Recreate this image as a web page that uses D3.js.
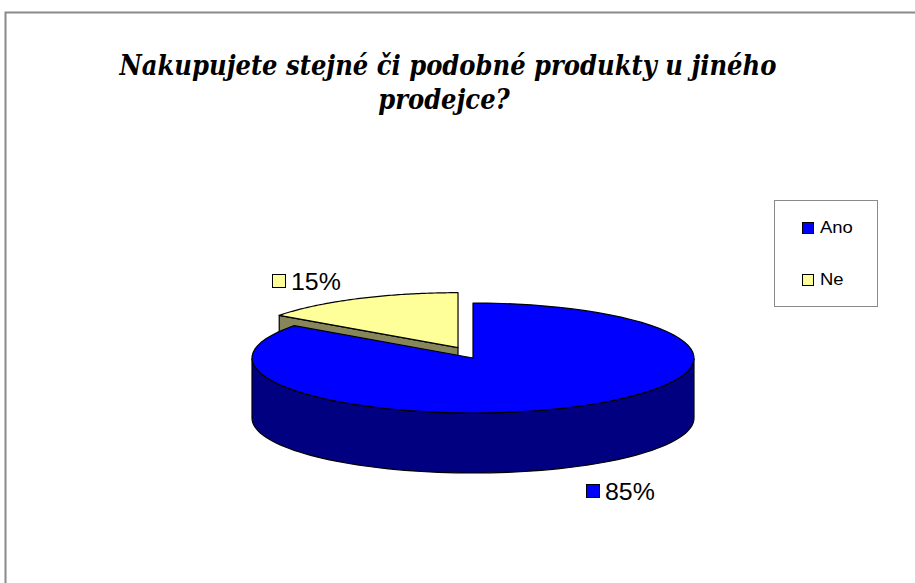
<!DOCTYPE html>
<html>
<head>
<meta charset="utf-8">
<script src="https://cdn.jsdelivr.net/npm/d3@7"></script>
<style>
  body { margin: 0; background: #fff; }
  svg { display: block; }
</style>
</head>
<body>
<script>
// DATA
var categories = ['Ano', 'Ne'];
var values = [85, 15];
var labels = ['85%', '15%'];
var titleLines = ['Nakupujete stejné či podobné produkty u jiného', 'prodejce?'];

// COLOURS
var topColors = ['#0000FF', '#FFFF99'];
var sideColors = ['#000080', '#86865A'];

var width = 915, height = 583;
var svg = d3.select('body').append('svg')
   .attr('width', width)
   .attr('height', height);

// FRAME
svg.append('path')
   .attr('d', 'M5.5,' + (height + 2) + 'V12.5H' + (width + 2))
   .attr('fill', 'none')
   .attr('stroke', '#8a8a8a')
   .attr('stroke-width', 2);

// TITLE (serif bold italic, squeezed a bit to match original width)
svg.append('g').selectAll('text')
   .data(titleLines).enter().append('text')
   .attr('transform', (d, i) => 'translate(' + (i ? 444 : 448) + ',' + (75 + i * 34) + ') scale(0.9,1)')
   .attr('text-anchor', 'middle')
   .style('font-family', "'DejaVu Serif', 'Liberation Serif', serif")
   .style('font-style', 'italic')
   .style('font-weight', 'bold')
   .style('font-size', '27px')
   .text(d => d);

// PIE GEOMETRY
var cx = 473, cy = 358, rx = 221, ry = 55, depth = 60;
var explode = 33;
var arcs = d3.pie().sort(null).value(d => d)(values);

function pt(a, ox, oy, dy) {
   return [cx + ox + rx * Math.sin(a), cy + oy - ry * Math.cos(a) + (dy || 0)];
}

function topPath(d, ox, oy) {
   var p = d3.path();
   p.moveTo(cx + ox, cy + oy);
   var n = 80;
   for (var k = 0; k <= n; k++) {
      var a = d.startAngle + (d.endAngle - d.startAngle) * k / n;
      var q = pt(a, ox, oy);
      p.lineTo(q[0], q[1]);
   }
   p.closePath();
   return p.toString();
}

function sidePath(a0, a1, ox, oy) {
   var p = d3.path(), n = 80, k, a, q;
   for (k = 0; k <= n; k++) {
      a = a0 + (a1 - a0) * k / n;
      q = pt(a, ox, oy);
      if (k === 0) p.moveTo(q[0], q[1]); else p.lineTo(q[0], q[1]);
   }
   for (k = n; k >= 0; k--) {
      a = a0 + (a1 - a0) * k / n;
      q = pt(a, ox, oy, depth);
      p.lineTo(q[0], q[1]);
   }
   p.closePath();
   return p.toString();
}

var pieG = svg.append('g');

// EXPLODED SLICE (Ne): radial wall at its start edge + top
var ne = arcs[1];
var mid = (ne.startAngle + ne.endAngle) / 2;
var ox = explode * Math.sin(mid), oy = -explode * Math.cos(mid) * ry / rx - 3;
var c0 = [cx + ox, cy + oy];
var r0 = pt(ne.startAngle, ox, oy);
pieG.append('path')
   .attr('d', 'M' + c0 + 'L' + r0 + 'L' + [r0[0], r0[1] + depth] + 'L' + [c0[0], c0[1] + depth] + 'Z')
   .attr('fill', sideColors[1])
   .attr('stroke', '#000')
   .attr('stroke-width', 1.2);
pieG.append('path')
   .attr('d', topPath(ne, ox, oy))
   .attr('fill', topColors[1])
   .attr('stroke', '#000')
   .attr('stroke-width', 1.2)
   .attr('stroke-linejoin', 'round');

// MAIN SLICE (Ano): front side wall + top
var ano = arcs[0];
pieG.append('path')
   .attr('d', sidePath(Math.PI / 2, Math.min(ano.endAngle, 3 * Math.PI / 2), 0, 0))
   .attr('fill', sideColors[0])
   .attr('stroke', '#000')
   .attr('stroke-width', 1.2);
pieG.append('path')
   .attr('d', topPath(ano, 0, 0))
   .attr('fill', topColors[0])
   .attr('stroke', '#000')
   .attr('stroke-width', 1.2)
   .attr('stroke-linejoin', 'round');

// DATA LABELS
var labelPos = [[586, 500], [272, 290]];
var lab = svg.append('g').selectAll('g')
   .data(labels).enter().append('g')
   .attr('transform', (d, i) => 'translate(' + labelPos[i] + ')');
lab.append('rect')
   .attr('x', 0.5).attr('y', -15.5)
   .attr('width', 13).attr('height', 13)
   .attr('fill', (d, i) => topColors[i])
   .attr('stroke', '#000');
lab.append('text')
   .attr('transform', 'translate(19,0) scale(1.06,1)')
   .attr('font-family', 'Arial, "Liberation Sans", sans-serif')
   .attr('font-size', 23.5)
   .text(d => d);

// LEGEND
var legend = svg.append('g');
legend.append('rect')
   .attr('x', 774.5).attr('y', 200.5)
   .attr('width', 103).attr('height', 106)
   .attr('fill', '#fff')
   .attr('stroke', '#8a8a8a');
var li = legend.selectAll('g.item')
   .data(categories).enter().append('g')
   .attr('class', 'item')
   .attr('transform', (d, i) => 'translate(802,' + (233 + i * 52) + ')');
li.append('rect')
   .attr('x', 0.5).attr('y', -10.5)
   .attr('width', 11).attr('height', 11)
   .attr('fill', (d, i) => topColors[i])
   .attr('stroke', '#000');
li.append('text')
   .attr('transform', 'translate(18,0) scale(1.12,1)')
   .attr('font-family', 'Arial, "Liberation Sans", sans-serif')
   .attr('font-size', 16.5)
   .text(d => d);
</script>
</body>
</html>
